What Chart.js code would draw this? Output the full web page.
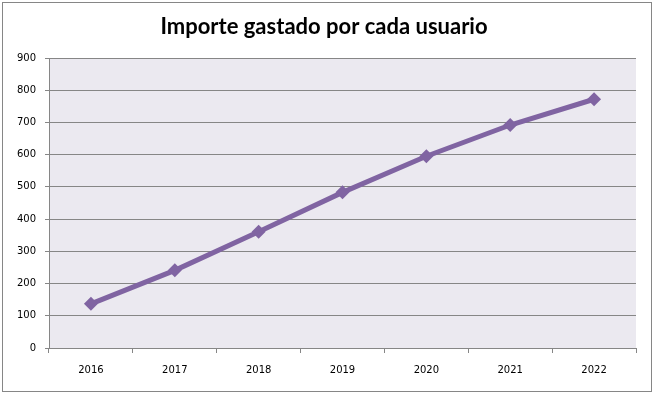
<!DOCTYPE html>
<html>
<head>
<meta charset="utf-8">
<script src="https://cdn.jsdelivr.net/npm/chart.js@4/dist/chart.umd.min.js"></script>
<style>
  html, body { margin: 0; padding: 0; background: #fff; }
  #wrap { position: relative; width: 654px; height: 395px; }
  #frame { position: absolute; left: 2px; top: 2px; border: 1px solid #868686; box-sizing: border-box; width: 650px; height: 390px; pointer-events: none; }
</style>
</head>
<body>
<div id="wrap">
  <canvas id="myChart" width="654" height="395"></canvas>
  <div id="frame"></div>
</div>
<script>
var anios = ["2016", "2017", "2018", "2019", "2020", "2021", "2022"];
var importes = [137, 241, 361, 483, 595, 692, 772];
var titulo = "Importe gastado por cada usuario";

var fondoGrafico = {
  id: "fondoGrafico",
  beforeDraw: function (chart) {
    var a = chart.chartArea;
    var ctx = chart.ctx;
    ctx.save();
    ctx.fillStyle = "#ebe9f0";
    ctx.fillRect(a.left, a.top, a.right - a.left, a.bottom - a.top);
    ctx.restore();
  }
};

new Chart("myChart", {
  type: "line",
  data: {
    labels: anios,
    datasets: [{
      data: importes,
      borderColor: "#8064a2",
      backgroundColor: "#8064a2",
      borderWidth: 5,
      pointStyle: "rectRot",
      pointRadius: 7,
      pointBorderWidth: 0,
      tension: 0
    }]
  },
  options: {
    responsive: false,
    animation: false,
    layout: { padding: { left: 12, right: 18, top: 0, bottom: 0 } },
    plugins: {
      legend: { display: false },
      tooltip: { enabled: false },
      title: {
        display: true,
        text: titulo,
        color: "#000",
        font: { family: "Lato", size: 22, weight: "bold", lineHeight: 1.2 },
        padding: { top: 14, bottom: 17.6 }
      }
    },
    scales: {
      x: {
        offset: true,
        afterFit: function (s) { s.height = 47; },
        grid: {
          offset: true,
          drawOnChartArea: false,
          drawTicks: true,
          tickLength: 5,
          color: "#868686"
        },
        border: { color: "#868686", width: 1 },
        ticks: {
          color: "#000",
          padding: 11,
          maxRotation: 0,
          font: { family: "DejaVu Sans", size: 10 }
        }
      },
      y: {
        min: 0,
        max: 900,
        afterFit: function (s) { s.width = 37; },
        grid: {
          color: "#868686",
          tickLength: 4
        },
        border: { color: "#868686", width: 1 },
        ticks: {
          stepSize: 100,
          color: "#000",
          padding: 9,
          font: { family: "DejaVu Sans", size: 10 }
        }
      }
    }
  },
  plugins: [fondoGrafico]
});
</script>
</body>
</html>
